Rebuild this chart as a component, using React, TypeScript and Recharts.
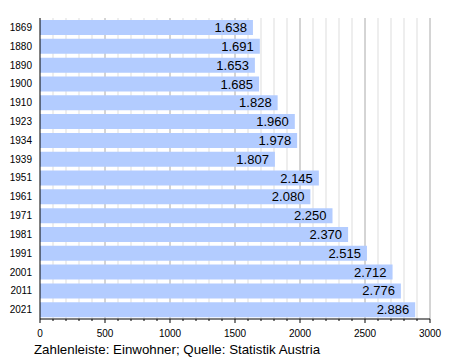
import React from 'react';
import {
    BarChart,
    Bar,
    XAxis,
    YAxis,
    CartesianGrid,
    LabelList,
} from 'recharts';

const years = ['1869', '1880', '1890', '1900', '1910', '1923', '1934', '1939', '1951', '1961', '1971', '1981', '1991', '2001', '2011', '2021'];
const population = [1638, 1691, 1653, 1685, 1828, 1960, 1978, 1807, 2145, 2080, 2250, 2370, 2515, 2712, 2776, 2886];
const ticks = [0, 100, 200, 300, 400, 500, 600, 700, 800, 900, 1000, 1100, 1200, 1300, 1400, 1500, 1600, 1700, 1800, 1900, 2000, 2100, 2200, 2300, 2400, 2500, 2600, 2700, 2800, 2900, 3000];
const caption = 'Zahlenleiste: Einwohner; Quelle: Statistik Austria';

const data = years.map((year, i) => ({ year, value: population[i] }));

const font = '"Liberation Sans", Arial, sans-serif';

const fmt = (v: any) => Number(v).toLocaleString('de-DE');
const isMajor = (v: number) => v % 500 === 0;

// grid line: darker every 500, light every 100
const GridLine = (p: any) => {
    const v = ticks[p.index];
    if (v === 0) return <g key={p.key} />;
    return (
        <line
            key={p.key}
            x1={p.x1}
            y1={p.y1}
            x2={p.x2}
            y2={p.y2}
            stroke={isMajor(v) ? '#aaaaaa' : '#dddddd'}
            strokeWidth={1}
        />
    );
};

// tick mark plus label (label only at major ticks)
const AxisTick = (p: any) => {
    const v = p.payload.value;
    const major = isMajor(v);
    return (
        <g>
            <line x1={p.x} y1={p.y} x2={p.x} y2={p.y + (major ? 4 : 2)} stroke="#000" />
            {major && (
                <text x={p.x} y={p.y + 18} textAnchor="middle" fontSize={10} fontFamily={font} fill="#000">
                    {v}
                </text>
            )}
        </g>
    );
};

const App: React.FC = () => {
    return (
        <div style={{ position: 'absolute', left: 0, top: 0, width: 450, height: 360, background: '#fff', fontFamily: font }}>
            <BarChart
                width={450}
                height={360}
                data={data}
                layout="vertical"
                margin={{ top: 18, right: 20, bottom: 0, left: 0 }}
                barCategoryGap={2}
            >
                <CartesianGrid horizontal={false} vertical={GridLine} />
                <XAxis
                    type="number"
                    domain={[0, 3000]}
                    ticks={ticks}
                    interval={0}
                    height={41}
                    tickSize={0}
                    tickMargin={0}
                    tickLine={false}
                    axisLine={{ stroke: '#000' }}
                    tick={AxisTick}
                />
                <YAxis
                    type="category"
                    dataKey="year"
                    width={40}
                    tickLine={false}
                    axisLine={{ stroke: '#000' }}
                    tick={{ fill: '#000', fontSize: 10, fontFamily: font }}
                    interval={0}
                />
                <Bar dataKey="value" fill="#b3ccff" isAnimationActive={false}>
                    <LabelList
                        dataKey="value"
                        position="insideRight"
                        offset={6}
                        formatter={fmt}
                        style={{ fill: '#000', fontSize: 13, fontFamily: font }}
                    />
                </Bar>
            </BarChart>
            <div style={{ position: 'absolute', left: 34, top: 342, fontSize: 13.3, color: '#000', whiteSpace: 'nowrap', fontFamily: font }}>
                {caption}
            </div>
        </div>
    );
};

export default App;
